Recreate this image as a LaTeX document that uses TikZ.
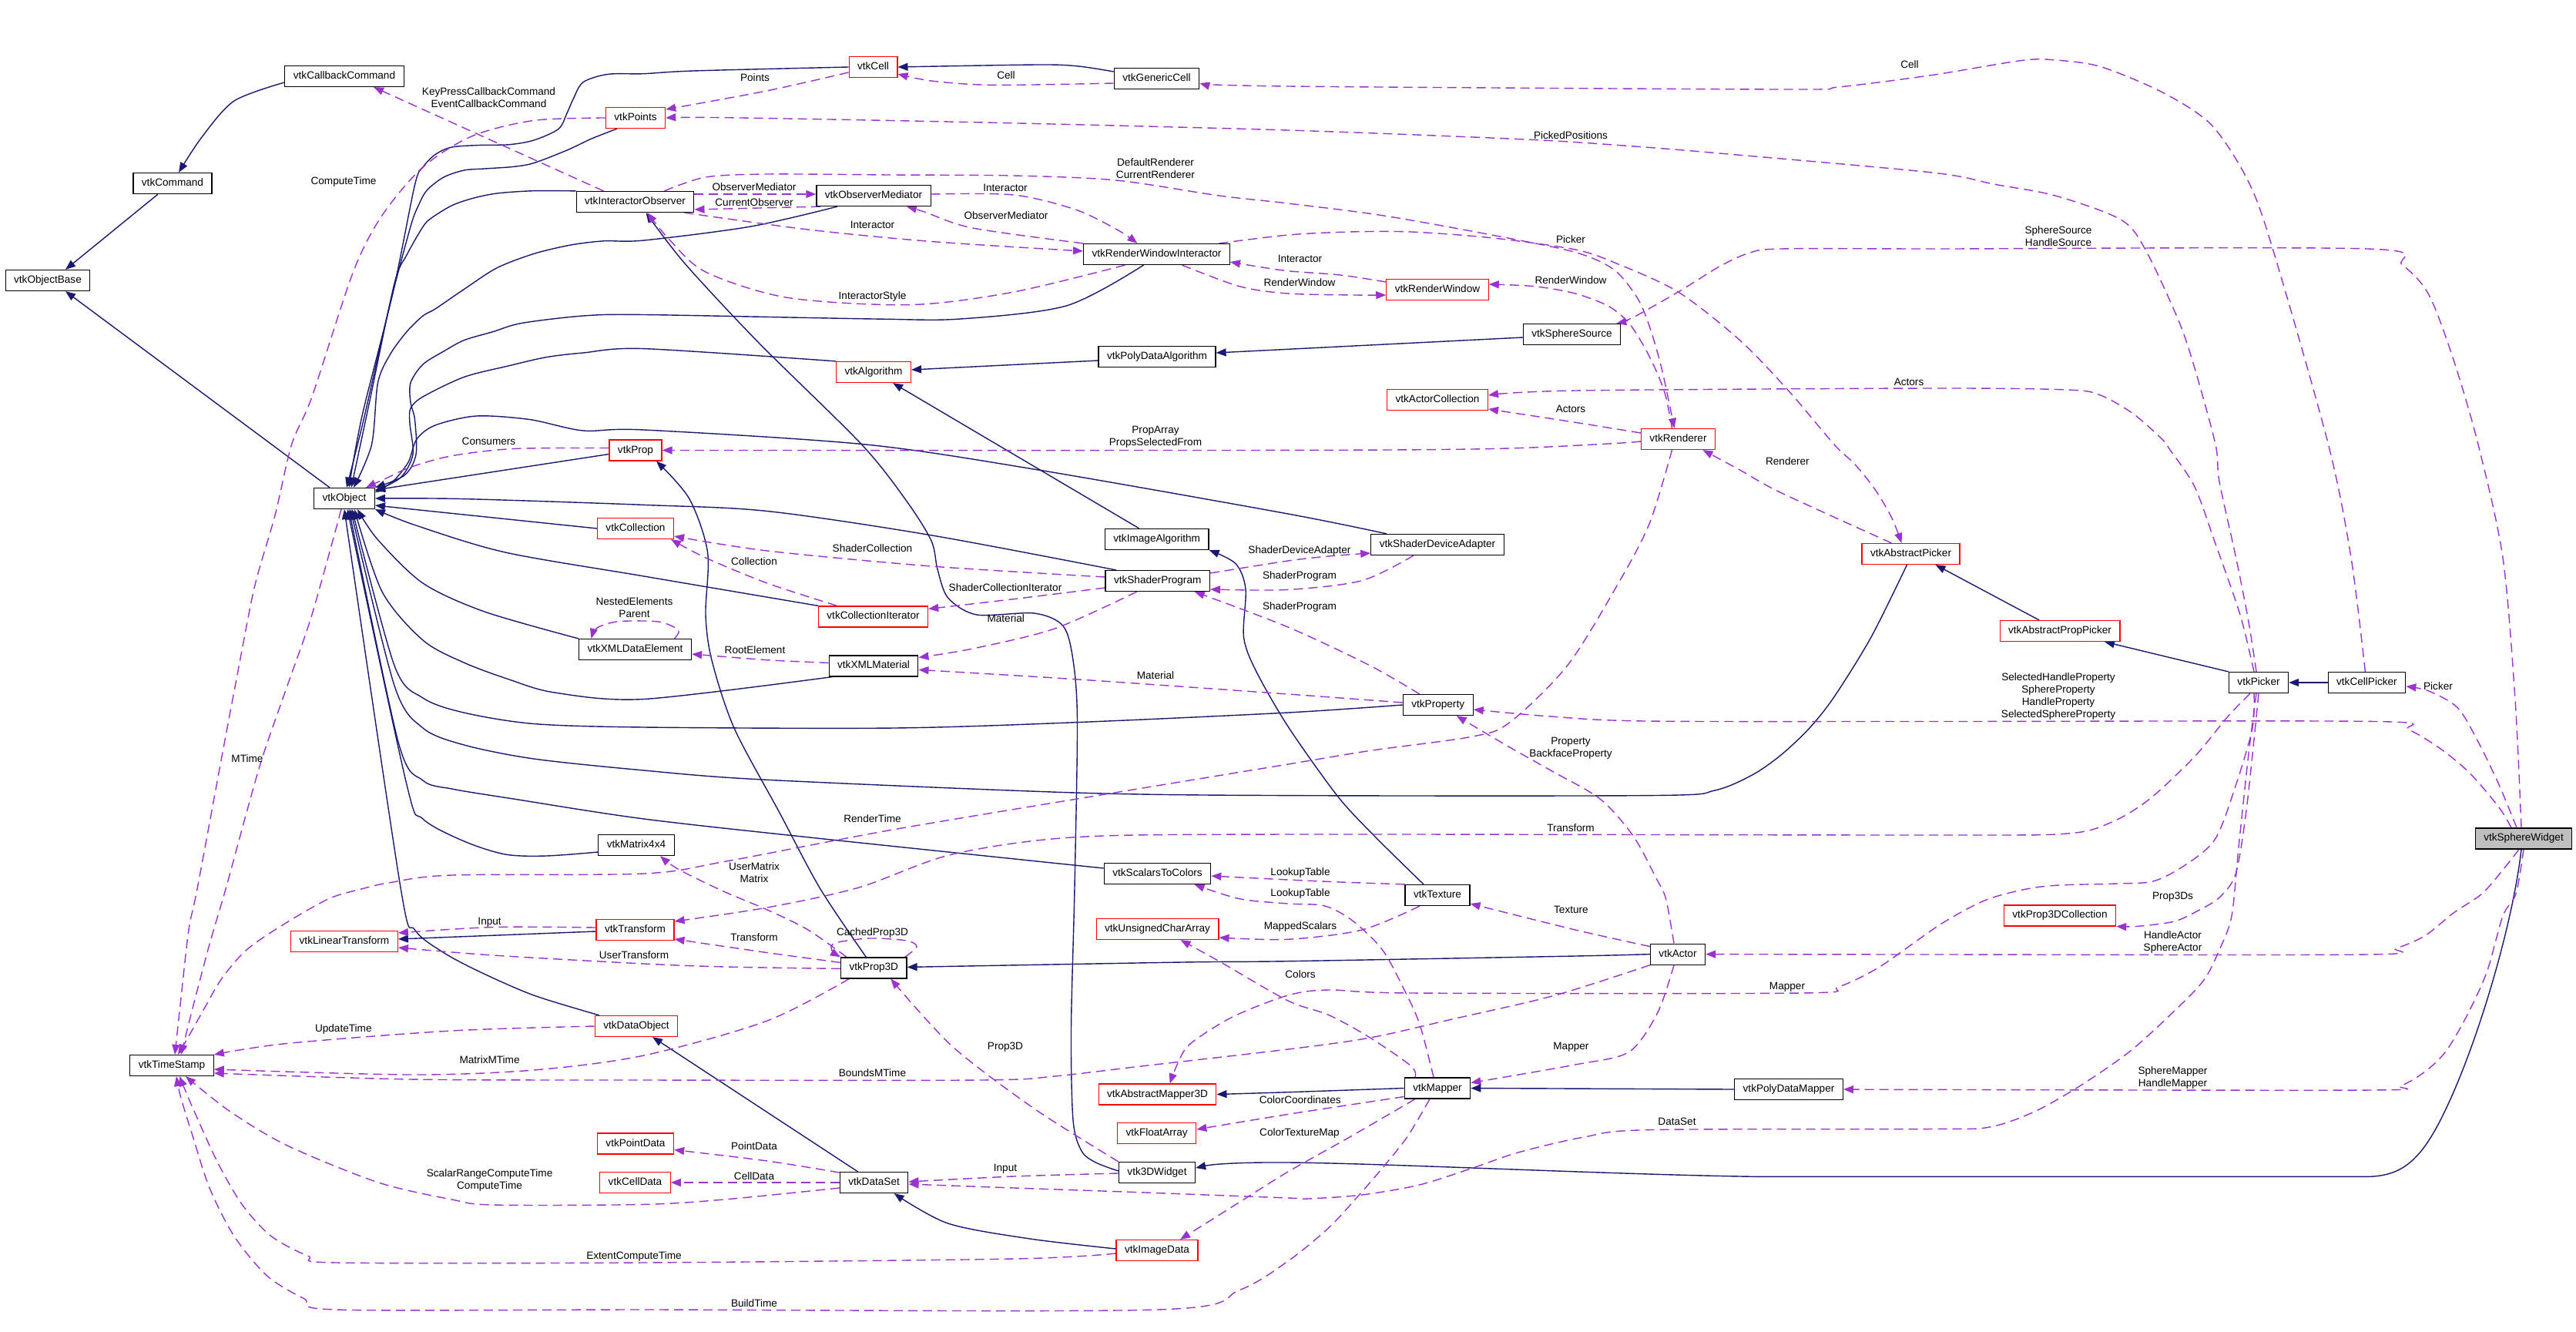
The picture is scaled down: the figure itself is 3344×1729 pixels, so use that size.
\documentclass[tikz,border=0pt]{standalone}
\usepackage{fontspec}
\setmainfont{Liberation Sans}
\usetikzlibrary{arrows.meta}
\definecolor{navyc}{HTML}{191970}
\definecolor{purpc}{HTML}{9A32CD}
\newcommand\lblfont{\fontsize{13.6pt}{16.2pt}\selectfont}
\pgfdeclarelayer{edges}
\pgfsetlayers{edges,main}
\begin{document}
\begin{tikzpicture}[x=1pt,y=-1pt,
  box/.style={draw=black, line width=1.2pt, font=\lblfont, inner xsep=11pt, inner ysep=0pt, minimum height=27pt, text height=10pt, text depth=3pt, fill=white},
  rbox/.style={box, draw=red},
  gbox/.style={box, fill=gray!50},
  inh/.style={draw=navyc, line width=1.4pt, -{Triangle[length=13pt,width=10pt]}},
  use/.style={draw=purpc, line width=1.4pt, dash pattern=on 12pt off 7pt, -{Triangle[length=13pt,width=10pt]}},
  lbl/.style={font=\lblfont, inner sep=0pt, align=center}]
\useasboundingbox (0,0) rectangle (3344,1729);
% ---------------- nodes
\node[box] (ObjectBase) at (62,364) {vtkObjectBase};
\node[box] (Command) at (224,238) {vtkCommand};
\node[box] (CallbackCommand) at (447,99) {vtkCallbackCommand};
\node[box] (Object) at (447,647) {vtkObject};
\node[box] (TimeStamp) at (223,1383) {vtkTimeStamp};
\node[rbox] (LinearTransform) at (447,1222) {vtkLinearTransform};
\node[rbox] (Points) at (825,153) {vtkPoints};
\node[box] (InteractorObserver) at (824.5,262) {vtkInteractorObserver};
\node[rbox] (Prop) at (825,584.5) {vtkProp};
\node[rbox] (Collection) at (825,686) {vtkCollection};
\node[box] (XMLDataElement) at (824.5,843) {vtkXMLDataElement};
\node[box] (Matrix) at (826,1097) {vtkMatrix4x4};
\node[rbox] (Transform) at (824.5,1207) {vtkTransform};
\node[rbox] (DataObject) at (826,1332) {vtkDataObject};
\node[rbox] (PointData) at (825,1484.5) {vtkPointData};
\node[rbox] (CellData) at (824.5,1535) {vtkCellData};
\node[rbox] (Cell) at (1133.5,87) {vtkCell};
\node[box] (ObserverMediator) at (1134,254) {vtkObserverMediator};
\node[rbox] (Algorithm) at (1134,483) {vtkAlgorithm};
\node[rbox] (CollectionIterator) at (1133.5,800.4) {vtkCollectionIterator};
\node[box] (XMLMaterial) at (1134,864.4) {vtkXMLMaterial};
\node[box] (Prop3D) at (1134.3,1256.4) {vtkProp3D};
\node[box] (DataSet) at (1134.6,1535) {vtkDataSet};
\node[box] (GenericCell) at (1501.5,102) {vtkGenericCell};
\node[box] (RWI) at (1501.5,330) {vtkRenderWindowInteractor};
\node[box] (PolyDataAlgorithm) at (1502,463) {vtkPolyDataAlgorithm};
\node[box] (ImageAlgorithm) at (1501.7,700) {vtkImageAlgorithm};
\node[box] (ShaderProgram) at (1502.7,754) {vtkShaderProgram};
\node[box] (ScalarsToColors) at (1502.5,1134) {vtkScalarsToColors};
\node[rbox] (UCA) at (1502.5,1206) {vtkUnsignedCharArray};
\node[rbox] (AbstractMapper3D) at (1502.5,1420.5) {vtkAbstractMapper3D};
\node[rbox] (FloatArray) at (1501.7,1471) {vtkFloatArray};
\node[box] (Widget3D) at (1502,1522) {vtk3DWidget};
\node[rbox] (ImageData) at (1502,1623) {vtkImageData};
\node[rbox] (RenderWindow) at (1866,376) {vtkRenderWindow};
\node[box] (SphereSource) at (2040.5,434) {vtkSphereSource};
\node[rbox] (ActorCollection) at (1866,519) {vtkActorCollection};
\node[rbox] (Renderer) at (2178.5,570) {vtkRenderer};
\node[box] (SDA) at (1866,707) {vtkShaderDeviceAdapter};
\node[box] (Property) at (1866.7,915) {vtkProperty};
\node[box] (Texture) at (1866,1162) {vtkTexture};
\node[box] (Mapper) at (1866,1412.5) {vtkMapper};
\node[box] (Actor) at (2178,1238.6) {vtkActor};
\node[rbox] (AbstractPicker) at (2480.5,719) {vtkAbstractPicker};
\node[box] (PolyDataMapper) at (2322,1414) {vtkPolyDataMapper};
\node[rbox] (AbstractPropPicker) at (2674,819) {vtkAbstractPropPicker};
\node[rbox] (Prop3DCollection) at (2674,1188.4) {vtkProp3DCollection};
\node[box] (Picker) at (2932,886) {vtkPicker};
\node[box] (CellPicker) at (3072.4,886) {vtkCellPicker};
\node[gbox] (SphereWidget) at (3276,1088.4) {vtkSphereWidget};
\begin{pgfonlayer}{edges}
\fill[white] (0,0) rectangle (3344,1729);
% ---------------- inheritance
\draw[inh] ([xshift=-19pt]Command.south) -- ([xshift=23pt]ObjectBase.north);
\draw[inh] plot[smooth] coordinates {([yshift=-8pt]CallbackCommand.west) (304,131) (262,178) ([xshift=8pt]Command.north)};
\draw[inh] ([xshift=-19pt]Object.north) -- ([xshift=23pt]ObjectBase.south);
\draw[inh] plot[smooth] coordinates {(Cell.west) (900,92) (836,95.7) (789,96.4) (757,106.7) (744,128.8) (736,147) (725,167.4) (693,182) (661,187.7) (624,188.4) (586.5,191) (565,200.6) (549,217) (538.5,240) (510,380) (470,540) ([xshift=6pt]Object.north)};
\draw[inh] plot[smooth] coordinates {([xshift=-24pt]Points.south) (768,180) (736,195) (693,211.6) (666.5,216.4) (629,219) (602.5,221) (576,230) (554.5,246.6) (544,265) (533,294) (505,400) (472,545) ([xshift=3pt]Object.north)};
\draw[inh] plot[smooth] coordinates {(InteractorObserver.north west) (693,247.7) (645,251) (613,257.6) (586.5,266.8) (560,283) (549,294.4) (528,331) (512,368) (480,520) ([xshift=9pt]Object.north)};
\draw[inh] plot[smooth] coordinates {([xshift=-47pt]ObserverMediator.south) (974.6,294) (836,312) (784,312.8) (741,318) (693,329.4) (645,347.8) (602.5,375.4) (565,401) (549,410) (528,430.6) (506.5,460) (490.5,496.8) (482.5,577) ([xshift=12pt]Object.north)};
\draw[inh] plot[smooth] coordinates {([xshift=-17pt]RWI.south) (1385,396.7) (1246.6,414) (1134.6,414) (836,408.5) (757,410) (677,419.5) (640,430.6) (602.5,441.6) (576,456) (549,473) (533,496.8) (533,522.6) (538.5,544.6) (540,590) (525,617) (Object.north east)};
\draw[inh] plot[smooth] coordinates {(Algorithm.north west) (836,452.6) (757,458) (709,463.7) (661,474.7) (602.5,489.4) (549,515) (533,530) (532,550) (536,590) (520,620) ([yshift=10pt]Object.east)};
\draw[inh] plot[smooth] coordinates {([xshift=-66pt]SDA.north) (1672,667) (1348,610) (1124,577) (836,558) (757,559) (688,544.6) (618.5,540) (565,552) (541,570) (530,600) (510,625) ([yshift=8pt]Object.east)};
\draw[inh] ([yshift=-5pt]Prop.west) -- ([yshift=11pt]Object.east);
\draw[inh] plot[smooth] coordinates {([xshift=-54pt]ShaderProgram.north) (1209,694.8) (996,663.5) (836,655.4) (602.5,647.6) (Object.east)};
\draw[inh] (Collection.west) -- ([yshift=-9pt]Object.east);
\draw[inh] plot[smooth] coordinates {(CollectionIterator.north west) (836,748) (656,717) (540,682) (Object.south east)};
\draw[inh] plot[smooth] coordinates {(XMLDataElement.north west) (629,794) (549,757) (490,700) ([xshift=17pt]Object.south)};
\draw[inh] plot[smooth] coordinates {([xshift=-53pt]XMLMaterial.south) (836,907.5) (720,899) (661,882) (602,860) (549,831) (496,768) ([xshift=13pt]Object.south)};
\draw[inh] plot[smooth] coordinates {(Property.west) (1672,925) (1398.5,937.6) (1161,945) (836,944) (693,939.5) (602,925) (549,906) (512,864) ([xshift=10pt]Object.south)};
\draw[inh] plot[smooth] coordinates {([xshift=-5pt]AbstractPicker.south) (2429,827) (2381,904.5) (2349,945) (2312,980) (2274.5,1006) (2226,1026) (2150,1032.5) (1672,1032.6) (1396,1029) (990.6,1012) (836,1000) (693,985) (602.5,967) (549,945) (512,890) ([xshift=8pt]Object.south)};
\draw[inh] plot[smooth] coordinates {([yshift=7pt]ScalarsToColors.west) (1065,1088.5) (836,1063) (666.5,1037) (586.5,1024) (549,1013) (517,963) ([xshift=6pt]Object.south)};
\draw[inh] plot[smooth] coordinates {([yshift=-9pt]Matrix.west) (709,1111) (656,1109) (602.5,1092) (549,1063) (528,1018.6) ([xshift=4pt]Object.south)};
\draw[inh] plot[smooth] coordinates {([xshift=-48pt]DataObject.north) (693,1292) (624,1262) (576,1236.6) (538.5,1207) (520,1152) (Object.south)};
\draw[inh] plot[smooth] coordinates {([xshift=-10pt]Prop3D.north) (1065,1154) (1012,1055) (953,945) (924,857) (916,798) (918.6,717) (894.6,647) ([xshift=27pt]Prop.south)};
\draw[inh] plot[smooth] coordinates {([yshift=2pt]Widget3D.west) (1422.5,1509) (1404,1494) (1393,1454) (1390.5,1336) (1395,1152) (1398.5,937.6) (1393,857) (1380,812.5) (1342.5,796) (1268,798) (1230.6,776) (1217,739) (1209,702) (1177,650.6) (1118.6,577) (985,445) (889,342) ([xshift=14pt]InteractorObserver.south)};
\draw[inh] ([yshift=-5pt]PolyDataAlgorithm.west) -- ([yshift=3pt]Algorithm.east);
\draw[inh] ([yshift=-4pt]SphereSource.west) -- ([yshift=5pt]PolyDataAlgorithm.east);
\draw[inh] ([xshift=-23pt]ImageAlgorithm.north) -- ([xshift=25pt]Algorithm.south);
\draw[inh] plot[smooth] coordinates {([yshift=9pt]GenericCell.west) (1400,86) (1348,84) (Cell.east)};
\draw[inh] (Picker.north west) -- ([xshift=58pt]AbstractPropPicker.south);
\draw[inh] ([xshift=-27pt]AbstractPropPicker.north) -- ([xshift=32pt]AbstractPicker.south);
\draw[inh] (CellPicker.west) -- (Picker.east);
\draw[inh] plot[smooth] coordinates {(Actor.west) (2045,1241) (1672,1247.7) (1534.6,1249) ([yshift=1pt]Prop3D.east)};
\draw[inh] (PolyDataMapper.west) -- (Mapper.east);
\draw[inh] plot[smooth] coordinates {(Mapper.west) (1672,1417.7) (AbstractMapper3D.east)};
\draw[inh] ([xshift=-3pt]SphereWidget.south) .. controls (3262,1200) and (3215,1360) .. (3170,1450) .. controls (3140,1510) and (3115,1527.4) .. (3070,1527.4) -- (2285,1527.4) .. controls (2100,1525) and (1800,1510) .. (1672,1509) .. controls (1610,1508.5) and (1575,1511) .. ([yshift=6pt]Widget3D.east);
\draw[inh] plot[smooth] coordinates {([yshift=2pt]ImageData.west) (1337,1608) (1230.6,1588) ([xshift=26pt]DataSet.south)};
\draw[inh] ([xshift=-21pt]DataSet.north) -- ([xshift=21pt]DataObject.south);
\draw[inh] ([yshift=-2pt]Transform.west) -- ([yshift=3pt]LinearTransform.east);
\draw[inh] plot[smooth] coordinates {([xshift=-18pt]Texture.north) (1784,1085) (1736,1033) (1672,943) (1630.5,871) (1614.5,827) (1617,764.7) (1604,731.6) (ImageAlgorithm.south east)};
% ---------------- usage
\draw[use] plot[smooth] coordinates {([xshift=-2pt]CellPicker.north) (3052,724) (3022.5,577) (2950.6,324) (2918.6,235.5) (2870.6,162) (2806.6,119.6) (2726.6,86.5) (2668,78) (2625,78.4) (2508,97.5) (2386.5,113) (2312,116) (1672,112) ([yshift=-6pt]GenericCell.east)};
\draw[use] plot[smooth] coordinates {([xshift=-3pt]Picker.north) (2918.6,805) (2902.6,724) (2881,625) (2876,577) (2849,478) (2828,416) (2785,324) (2753,285) (2668,254) (2588,239) (2508,224) (2232,199) (2114.6,189.5) (1981,181) (1672,169) (1278.6,159) (942.6,152.7) (Points.east)};
\draw[use] plot[smooth] coordinates {([xshift=-6pt]Picker.north) (2908,798) (2876,706) (2849,632) (2817,584) (2806.6,570) (2769,537) (2726.6,513) (2684,506) (2508,504) (2045,507) ([yshift=6pt]ActorCollection.east)};
\draw[use] plot[smooth] coordinates {([xshift=-3pt]SphereWidget.north) (3265,908) (3249,724) (3217,577) (3185,467) (3153,382.7) (3118.5,344) (3073,323) (2516,323) (2311.7,323) (2269,329) (2232,346) (2178.5,379) (2120,412) ([xshift=-6pt]SphereSource.north east)};
\draw[use] plot[smooth] coordinates {([xshift=-16pt]SphereWidget.north) (3244,1048) (3206.5,1004) (3169,972.6) (3126.5,947) (3084,936.5) (2508,936.5) (2136,936) (2013,930) ([yshift=-6pt]Property.east)};
\draw[use] plot[smooth] coordinates {([xshift=-9pt]SphereWidget.north) (3244,1018.6) (3217,963) (3190.6,919) (3153,897) ([yshift=-5pt]CellPicker.east)};
\draw[use] plot[smooth] coordinates {([xshift=-6pt]SphereWidget.south) (3250,1128) (3222,1160) (3185,1185) (3148,1214.6) (3110.5,1231) (3073,1239) (2508,1239) (Actor.east)};
\draw[use] plot[smooth] coordinates {(SphereWidget.south) (3266,1160) (3249,1189) (3228,1262.4) (3201,1321) (3174.5,1365.4) (3148,1391) (3116,1409.6) (3078.5,1415) (2508,1414.4) (PolyDataMapper.east)};
\draw[use] plot[smooth] coordinates {([xshift=-11pt]Picker.south) (2892,930) (2849,982) (2790.6,1037) (2742.6,1066.5) (2684,1082) (2508,1084) (1672,1083) (1396,1086.7) (1236,1109) (1115,1152) (996,1178) ([yshift=11pt]Transform.east)};
\draw[use] plot[smooth] coordinates {(Picker.south) (2926,960) (2915,1060) (2902,1135) (2881,1165) (2854.6,1181.4) (2822.6,1196) (2774.6,1202.4) (Prop3DCollection.south east)};
\draw[use] plot[smooth] coordinates {([xshift=-6pt]Picker.south) (2924,945) (2902.6,1018.6) (2876,1088.5) (2838.6,1121.6) (2796,1143.7) (2748,1147) (2673,1149) (2630.6,1154) (2577,1168.6) (2518.7,1200) (2440,1255) (2386.6,1281) (2338.5,1289) (1832,1289) (1725,1285) (1672,1292) (1600,1320) (1545,1355) (1529,1380) ([xshift=16pt]AbstractMapper3D.north)};
\draw[use] plot[smooth] coordinates {([xshift=-3pt]Picker.south) (2918.6,982) (2906,1100) (2897,1189) (2881,1233) (2860,1273.4) (2817,1317.6) (2764,1365.4) (2700,1409.6) (2641,1443) (2582.6,1463) (2508,1465.5) (2141,1466.6) (2056,1476) (1970.6,1496) (1912,1516) (1842.6,1538) (1768,1551) (1698.6,1556) (1672,1555) (1476,1547.6) (1316,1542) ([yshift=-2pt]DataSet.east)};
\draw[use] plot[smooth] coordinates {([xshift=-25pt]AbstractPicker.north) (2312,639.6) (2258.5,610) ([xshift=32pt]Renderer.south)};
\draw[use] plot[smooth] coordinates {([xshift=81pt]RWI.north) (1672,305) (1752,301) (1832,301) (1938.6,309) (2045,324) (2098.6,342) (2178.5,379) (2258.5,441.6) (2322.5,508) (2381,577) (2408,602.8) (2434.5,636) (2456,672.7) ([xshift=-12pt]AbstractPicker.north)};
\draw[use] plot[smooth] coordinates {([xshift=38pt]InteractorObserver.north) (916,230) (996,226) (1156,227) (1316,228) (1449,234) (1582.5,254) (1672,264) (1794.6,279.7) (1938.6,305.4) (2045,327.5) (2095,350) (2125,386) (2141,423) (2157,478) ([xshift=-5pt]Renderer.north)};
\draw[use] plot[smooth] coordinates {([xshift=-8pt]Renderer.north) (2162.5,515) (2152,486) (2136,453) (2114.6,419.5) (2088,397.4) (2045,381) (1992,371.7) ([yshift=7pt]RenderWindow.east)};
\draw[use] plot[smooth] coordinates {([yshift=10pt]RenderWindow.west) (1740,357) (1672,351.7) (1620,344) ([yshift=-10pt]RWI.east)};
\draw[use] plot[smooth] coordinates {([xshift=33pt]RWI.south) (1609,371.7) (1672,381) (1760,383) ([yshift=-7pt]RenderWindow.west)};
\draw[use] plot[smooth] coordinates {([yshift=2pt]ObserverMediator.east) (1316,253) (1396,272) (1450,298) ([xshift=-25pt]RWI.north)};
\draw[use] plot[smooth] coordinates {(RWI.north west) (1262.6,296) (1200,275) ([xshift=43pt]ObserverMediator.south)};
\draw[use] plot[smooth] coordinates {([xshift=64pt]InteractorObserver.south) (1049,298) (1209,313.5) ([yshift=4pt]RWI.west)};
\draw[use] plot[smooth] coordinates {([xshift=-41pt]RWI.south) (1316,379) (1182.6,395.6) (1022.6,386.4) (916,353) (868,310) ([xshift=16pt]InteractorObserver.south)};
\draw[use] ([yshift=10pt]InteractorObserver.east) -- ([yshift=2pt]ObserverMediator.west);
\draw[use] ([xshift=-69pt]ObserverMediator.south) -- ([yshift=-10pt]InteractorObserver.east);
\draw[use] ([xshift=-41pt]InteractorObserver.north) -- ([xshift=38pt]CallbackCommand.south);
\draw[use] plot[smooth] coordinates {([yshift=-7pt]Cell.west) (996,117.8) ([yshift=11pt]Points.east)};
\draw[use] plot[smooth] coordinates {([yshift=-6pt]GenericCell.west) (1289,110.4) (1209,105) ([yshift=-9pt]Cell.east)};
\draw[use] plot[smooth] coordinates {(Points.west) (693,156.4) (613,176.6) (549,217) (496,279.7) (458.5,353) (405,515) (378.6,577) (357,669) (330.6,761) (309,871) (288,982) (256,1154) (245,1207) (234.6,1299) ([xshift=4pt]TimeStamp.north)};
\draw[use] plot[smooth] coordinates {([xshift=-4pt]Object.south) (405,797.8) (373,890) (341,982) (320,1055) (293,1154) (272,1225.6) (250.6,1306.6) ([xshift=12pt]TimeStamp.north)};
\draw[use] plot[smooth] coordinates {([yshift=3pt]Prop.west) (666.5,582.5) (586.5,591.7) (533,606.4) (501,621) ([xshift=28pt]Object.north)};
\draw[use] plot[smooth] coordinates {([xshift=51pt]XMLDataElement.north) (881,818) (860,808) (836,806) (800,807) (775,815) ([xshift=-57pt]XMLDataElement.north)};
\draw[use] plot[smooth] coordinates {([yshift=4pt]XMLMaterial.west) (996,856.7) ([yshift=-6pt]XMLDataElement.east)};
\draw[use] plot[smooth] coordinates {([xshift=-47pt]CollectionIterator.north) (996,757) (916,724) ([xshift=46pt]Collection.south)};
\draw[use] plot[smooth] coordinates {([yshift=5pt]ShaderProgram.west) (1209,735) (996,715) ([yshift=-10pt]Collection.east)};
\draw[use] plot[smooth] coordinates {([yshift=-9pt]ShaderProgram.west) (1316,777.6) ([yshift=10pt]CollectionIterator.east)};
\draw[use] plot[smooth] coordinates {([xshift=-27pt]ShaderProgram.south) (1369,816) (1262.6,842) ([yshift=11pt]XMLMaterial.east)};
\draw[use] plot[smooth] coordinates {([yshift=3pt]Property.west) (1672,901) (1396,881.7) ([yshift=-5pt]XMLMaterial.east)};
\draw[use] plot[smooth] coordinates {([yshift=10pt]ShaderProgram.east) (1672,728) (1725,722) ([yshift=-11pt]SDA.west)};
\draw[use] plot[smooth] coordinates {([xshift=-31pt]SDA.south) (1768,753.6) (1672,765.4) ([yshift=-11pt]ShaderProgram.east)};
\draw[use] plot[smooth] coordinates {([xshift=-24pt]Property.north) (1778.6,864) (1672,814) ([xshift=48pt]ShaderProgram.south)};
\draw[use] plot[smooth] coordinates {([yshift=8pt]Renderer.west) (2045,548.3) ([yshift=-12pt]ActorCollection.east)};
\draw[use] plot[smooth] coordinates {([yshift=-3pt]Renderer.west) (2088,576) (1938.6,582.5) (1672,584.4) (Prop.east)};
\draw[use] plot[smooth] coordinates {([xshift=-8pt]Renderer.south) (2141,680) (2098.6,761) (2034.6,864) (1960,937.6) (1912,956) (1778.6,974.4) (1672,992) (1422.5,1033) (1156,1077.5) (942.6,1118) (836,1134) (586.5,1136) (506.5,1145.6) (469,1154) (426.6,1166.7) (368,1200) (320,1233) (288,1270) (266.6,1306.6) (245,1345) ([xshift=8pt]TimeStamp.north)};
\draw[use] plot[smooth] coordinates {(DataObject.west) (586.5,1338) (373,1354.4) (TimeStamp.north east)};
\draw[use] plot[smooth] coordinates {([xshift=-32pt]Prop3D.south) (996,1325) (836,1370) (693,1389) (533,1395) ([yshift=-5pt]TimeStamp.east)};
\draw[use] plot[smooth] coordinates {(Actor.south west) (2018.6,1292) (1885,1323) (1778.6,1347) (1672,1362) (1476,1384.6) (1369,1397) (1273,1402) (836,1402) (533,1401) ([yshift=-10pt]TimeStamp.east)};
\draw[use] plot[smooth] coordinates {([xshift=-10pt]Mapper.south) (1826.6,1476) (1794.6,1516) (1762.6,1553) (1725,1593.6) (1672,1637) (1609,1674.6) (1502.5,1700) (836,1700) (437,1700) (394.6,1685.6) (346.6,1656) (304,1604.6) (272,1542) (250.6,1476) (234.6,1424) ([xshift=6pt]TimeStamp.south)};
\draw[use] plot[smooth] coordinates {([yshift=-4pt]ImageData.west) (1316,1634) (836,1639) (437,1639) (400,1630.4) (352,1604.6) (314.6,1564) (282.6,1509) (250.6,1439) ([xshift=10pt]TimeStamp.south)};
\draw[use] plot[smooth] coordinates {([yshift=-7pt]DataSet.west) (942.6,1556.8) (836,1563.4) (640,1564) (586.5,1557) (490.5,1534.7) (373,1487) (298.6,1442.7) ([xshift=18pt]TimeStamp.south)};
\draw[use] plot[smooth] coordinates {([yshift=13pt]DataSet.west) (996,1507) ([yshift=-8pt]PointData.east)};
\draw[use] (DataSet.west) -- (CellData.east);
\draw[use] plot[smooth] coordinates {([yshift=-1pt]Widget3D.west) (1316,1527) ([yshift=1pt]DataSet.east)};
\draw[use] plot[smooth] coordinates {(Widget3D.north west) (1342.5,1439) (1236,1358) ([xshift=22pt]Prop3D.south)};
\draw[use] plot[smooth] coordinates {([xshift=-3pt]Prop3D.north east) (1190,1229) (1177,1221) (1129,1218) (1084,1224) (1080,1234) (Prop3D.north west)};
\draw[use] plot[smooth] coordinates {([xshift=8pt]Prop3D.north west) (1049,1207) (996,1181) (937,1156) (880,1128) ([xshift=31pt]Matrix.south)};
\draw[use] plot[smooth] coordinates {([yshift=7pt]Prop3D.west) (996,1236.6) ([yshift=-12pt]Transform.east)};
\draw[use] plot[smooth] coordinates {([yshift=-1pt]Prop3D.west) (942.6,1255) (836,1251) (640,1240) ([yshift=-8pt]LinearTransform.east)};
\draw[use] plot[smooth] coordinates {([yshift=3pt]Transform.west) (640,1203.5) ([yshift=11pt]LinearTransform.east)};
\draw[use] plot[smooth] coordinates {(Texture.north west) (1740,1145) (1672,1142) ([yshift=-3pt]ScalarsToColors.east)};
\draw[use] plot[smooth] coordinates {([xshift=-5pt]Mapper.north) (1842.6,1328.6) (1821,1281) (1794.6,1233) (1757,1196) (1720,1176) (1672,1173) (1609,1166.7) ([xshift=48pt]ScalarsToColors.south)};
\draw[use] plot[smooth] coordinates {([xshift=-23pt]Texture.south) (1768,1207) (1672,1219.3) ([yshift=-11pt]UCA.east)};
\draw[use] plot[smooth] coordinates {([yshift=10pt]Actor.west) (2045,1207) ([yshift=-11pt]Texture.east)};
\draw[use] plot[smooth] coordinates {([xshift=-5pt]Actor.north) (2162.5,1166.7) (2150,1140) (2120,1085) (2077,1037) (2013,1000) (1954.6,967) ([xshift=24pt]Property.south)};
\draw[use] plot[smooth] coordinates {([xshift=-5pt]Actor.south) (2152,1314) (2114.6,1365.4) (2045,1382) ([yshift=7pt]Mapper.east)};
\draw[use] plot[smooth] coordinates {([yshift=-11pt]Mapper.west) (1672,1446.4) ([yshift=5pt]FloatArray.east)};
\draw[use] plot[smooth] coordinates {([xshift=-29pt]Mapper.south) (1752,1476) (1672,1521) (1609,1560.5) ([xshift=30pt]ImageData.north)};
\draw[use] plot[smooth] coordinates {([xshift=-29pt]Mapper.north) (1832,1384) (1778.6,1347) (1725,1317.6) (1672,1299) (1582.5,1247.7) ([xshift=30pt]UCA.south)};
\end{pgfonlayer}
% ---------------- labels
\node[lbl] (L1) at (634.5,126.6) {KeyPressCallbackCommand\\EventCallbackCommand};
\node[lbl] (L2) at (446,235.5) {ComputeTime};
\node[lbl] (L3) at (634.5,573) {Consumers};
\node[lbl] (L4) at (980,100.5) {Points};
\node[lbl] (L5) at (1306,98) {Cell};
\node[lbl] (L6) at (1500,219) {DefaultRenderer\\CurrentRenderer};
\node[lbl] (L7) at (979,242.5) {ObserverMediator};
\node[lbl] (L8) at (979,262.7) {CurrentObserver};
\node[lbl] (L9) at (1305,243.6) {Interactor};
\node[lbl] (L10) at (1306,279.7) {ObserverMediator};
\node[lbl] (L11) at (1132.5,291.5) {Interactor};
\node[lbl] (L12) at (1132.5,384.6) {InteractorStyle};
\node[lbl] (L13) at (1500,567.6) {PropArray\\PropsSelectedFrom};
\node[lbl] (L14) at (2479,83.5) {Cell};
\node[lbl] (L15) at (2039,176) {PickedPositions};
\node[lbl] (L16) at (2039,311) {Picker};
\node[lbl] (L17) at (1687.5,335.6) {Interactor};
\node[lbl] (L18) at (1687,366.5) {RenderWindow};
\node[lbl] (L19) at (2039,364) {RenderWindow};
\node[lbl] (L20) at (2478,495.7) {Actors};
\node[lbl] (L21) at (2039,530.7) {Actors};
\node[lbl] (L22) at (2672,306.5) {SphereSource\\HandleSource};
\node[lbl] (L23) at (2320.4,599) {Renderer};
\node[lbl] (L24) at (1687,714.6) {ShaderDeviceAdapter};
\node[lbl] (L25) at (1687,747.8) {ShaderProgram};
\node[lbl] (L26) at (1687,787.5) {ShaderProgram};
\node[lbl] (L27) at (823.5,788.6) {NestedElements\\Parent};
\node[lbl] (L28) at (321,984.7) {MTime};
\node[lbl] (L29) at (1132.5,711.7) {ShaderCollection};
\node[lbl] (L30) at (979,728.6) {Collection};
\node[lbl] (L31) at (1305,762.5) {ShaderCollectionIterator};
\node[lbl] (L32) at (1305.7,803) {Material};
\node[lbl] (L33) at (980,843.4) {RootElement};
\node[lbl] (L34) at (1500,876.6) {Material};
\node[lbl] (L35) at (1132.5,1062.8) {RenderTime};
\node[lbl] (L36) at (979,1132.6) {UserMatrix\\Matrix};
\node[lbl] (L37) at (1688,1132.7) {LookupTable};
\node[lbl] (L38) at (1688,1160) {LookupTable};
\node[lbl] (L39) at (2039,971) {Property\\BackfaceProperty};
\node[lbl] (L40) at (2039,1074.5) {Transform};
\node[lbl] (L41) at (2672,904) {SelectedHandleProperty\\SphereProperty\\HandleProperty\\SelectedSphereProperty};
\node[lbl] (L42) at (3165,891) {Picker};
\node[lbl] (L43) at (635.6,1197) {Input};
\node[lbl] (L44) at (823,1239.6) {UserTransform};
\node[lbl] (L45) at (445.8,1335.6) {UpdateTime};
\node[lbl] (L46) at (635.6,1375.7) {MatrixMTime};
\node[lbl] (L47) at (635.6,1531.7) {ScalarRangeComputeTime\\ComputeTime};
\node[lbl] (L48) at (823,1630.8) {ExtentComputeTime};
\node[lbl] (L49) at (979,1692) {BuildTime};
\node[lbl] (L50) at (979,1216.8) {Transform};
\node[lbl] (L51) at (1132.5,1210.5) {CachedProp3D};
\node[lbl] (L52) at (1305,1358.8) {Prop3D};
\node[lbl] (L53) at (1132.5,1392.7) {BoundsMTime};
\node[lbl] (L54) at (979,1487.6) {PointData};
\node[lbl] (L55) at (979,1526.6) {CellData};
\node[lbl] (L56) at (1305,1517) {Input};
\node[lbl] (L57) at (1688,1202.8) {MappedScalars};
\node[lbl] (L58) at (1688,1264.6) {Colors};
\node[lbl] (L59) at (1687.7,1427.6) {ColorCoordinates};
\node[lbl] (L60) at (1687,1470.7) {ColorTextureMap};
\node[lbl] (L61) at (2039.4,1180.7) {Texture};
\node[lbl] (L62) at (2320,1280.8) {Mapper};
\node[lbl] (L63) at (2039.4,1358.8) {Mapper};
\node[lbl] (L64) at (2177,1455.6) {DataSet};
\node[lbl] (L65) at (2820.5,1163.8) {Prop3Ds};
\node[lbl] (L66) at (2820.5,1222.7) {HandleActor\\SphereActor};
\node[lbl] (L67) at (2820.5,1398.7) {SphereMapper\\HandleMapper};
\end{tikzpicture}
\end{document}
